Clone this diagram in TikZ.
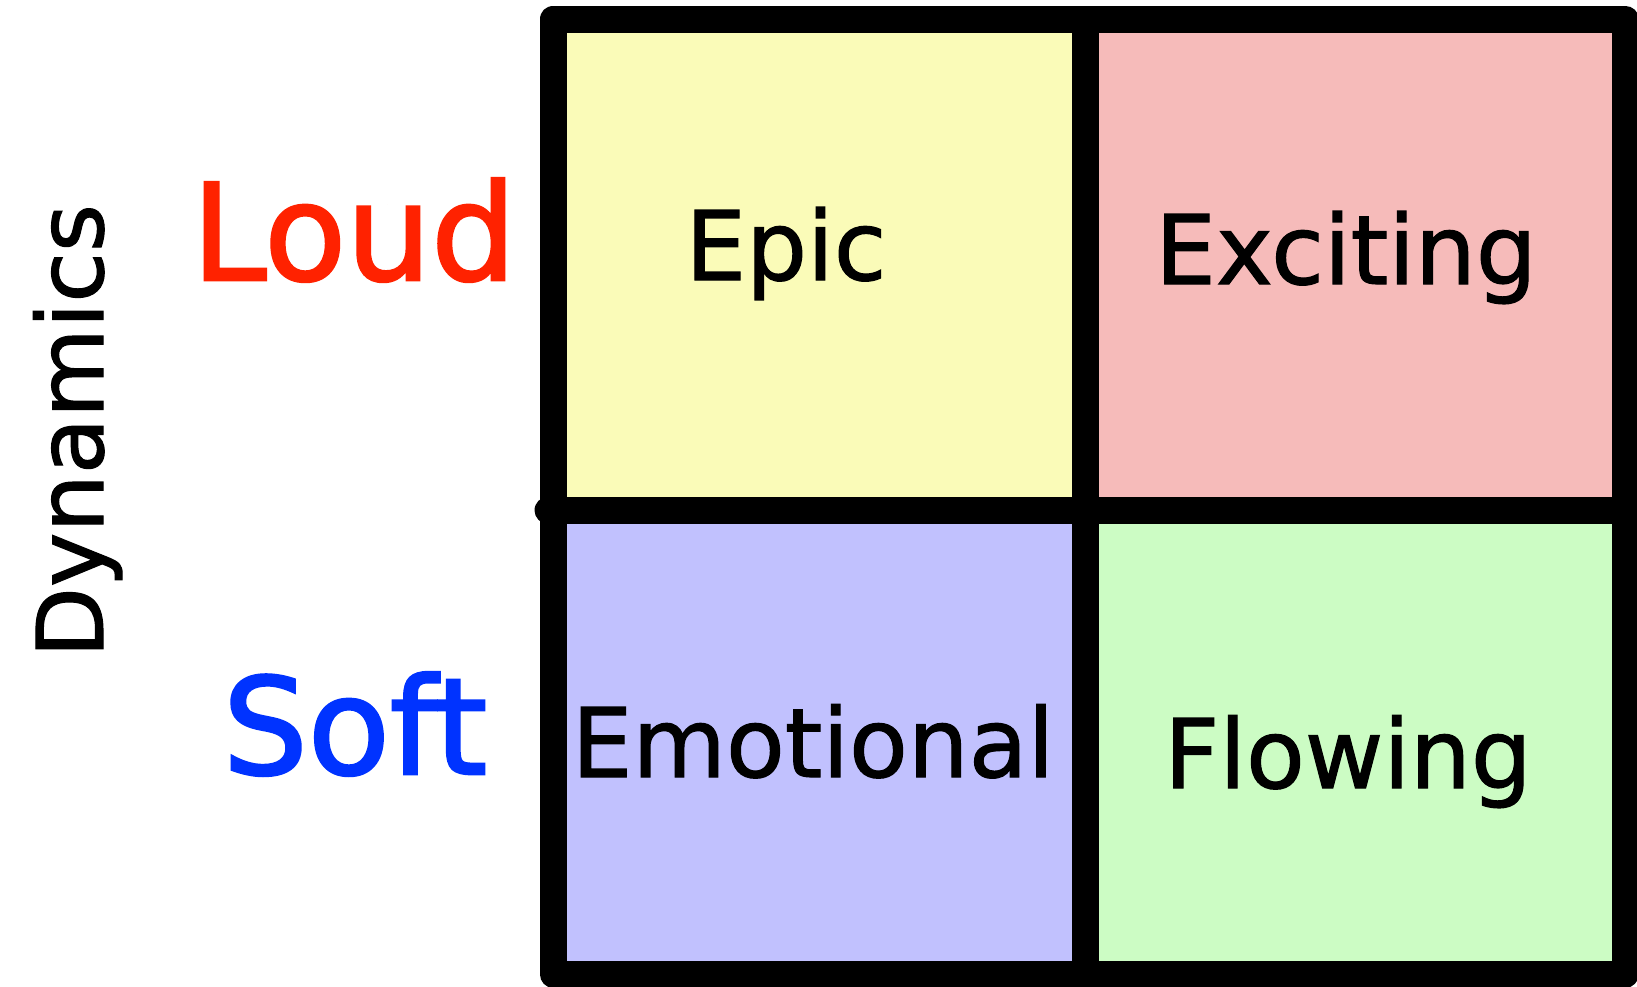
\documentclass[tikz,border=0pt]{standalone}
\usepackage{fontspec}
\setmainfont{DejaVu Sans}
\newfontfamily\thickfont[FakeBold=1.2]{DejaVu Sans}
\newfontfamily\heavyfont[FakeBold=2]{DejaVu Sans}
\definecolor{cyellow}{HTML}{FAFBB8}
\definecolor{cpink}{HTML}{F6BBBA}
\definecolor{cblue}{HTML}{C1C1FE}
\definecolor{cgreen}{HTML}{CCFCC4}
\definecolor{cloud}{HTML}{FF2200}
\definecolor{csoft}{HTML}{0033FF}
\tikzset{
  cell/.style={fill=#1, draw=none, inner sep=0pt, anchor=north west},
  frame/.style={line width=27pt, line join=round, line cap=round},
  qlabel/.style={anchor=base, inner sep=0pt, font=\thickfont\fontsize{96}{100}\selectfont},
  axlabel/.style={anchor=base, inner sep=0pt, font=\heavyfont\fontsize{134}{140}\selectfont},
}
\begin{document}
\begin{tikzpicture}[x=1pt,y=-1pt]
\useasboundingbox (0,0) rectangle (1637,986);
% cells
\node[cell=cyellow, minimum width=532pt, minimum height=491pt] (c11) at (553,19) {};
\node[cell=cpink, minimum width=540pt, minimum height=491pt] (c12) at (1085,19) {};
\node[cell=cblue, minimum width=532pt, minimum height=464pt] (c21) at (553,510) {};
\node[cell=cgreen, minimum width=540pt, minimum height=464pt] (c22) at (1085,510) {};
% frame
\coordinate (tl) at (553,19);
\coordinate (tr) at (1625,19);
\coordinate (br) at (1625,974);
\coordinate (bl) at (553,974);
\coordinate (mt) at (1085,19);
\coordinate (mb) at (1085,974);
\coordinate (ml) at (548,510);
\coordinate (mr) at (1625,510);
\draw[frame] (tl) -- (tr) -- (br) -- (bl) -- cycle;
\draw[frame, line cap=butt] (mt) -- (mb);
\draw[frame] (ml) -- (mr);
% labels
\node[qlabel] (epic) at (786,280) {Epic};
\node[qlabel] (exc) at (1346,284) {Exciting};
\node[qlabel] (emo) at (813,777) {Emotional};
\node[qlabel] (flo) at (1348,788) {Flowing};
\node[axlabel, text=cloud] (loud) at (354,280) {Loud};
\node[axlabel, text=csoft] (soft) at (355,774) {Soft};
\node[anchor=base, inner sep=0pt, rotate=90, font=\thickfont\fontsize{92}{96}\selectfont] (dyn) at (103,431) {Dynamics};
\end{tikzpicture}
\end{document}
